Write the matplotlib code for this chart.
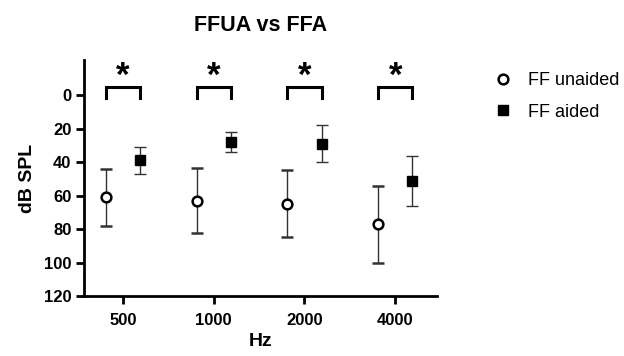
import matplotlib
matplotlib.use("Agg")
import matplotlib.pyplot as plt
import numpy as np

plt.rcParams['font.family'] = ['Liberation Sans', 'DejaVu Sans']

freqs = ["500", "1000", "2000", "4000"]
unaided_mean = [61, 63, 65, 77]
unaided_err = [17, 19.5, 20, 23]
aided_mean = [39, 28, 29, 51.5]
aided_err = [8, 6, 11, 15]
yticks = [0, 20, 40, 60, 80, 100, 120]

fig = plt.figure(figsize=(6.24, 3.56), dpi=100)
ax = fig.add_axes([0.1346, 0.1685, 0.5657, 0.663])

x = np.arange(len(freqs))
off = 0.19
ax.errorbar(x - off, unaided_mean, yerr=unaided_err, fmt='o', mfc='white', mec='black',
            mew=1.8, ms=7, ecolor='#333333', elinewidth=1.0, capsize=4, capthick=1.0,
            label='FF unaided', zorder=3)
ax.errorbar(x + off, aided_mean, yerr=aided_err, fmt='s', mfc='black', mec='black',
            ms=6.5, ecolor='#333333', elinewidth=1.0, capsize=4, capthick=1.0,
            label='FF aided', zorder=3)

for xi in x:
    ax.plot([xi - off, xi - off, xi + off, xi + off], [1.5, -5, -5, 1.5],
            color='black', lw=2.2, solid_joinstyle='miter', clip_on=False)
    ax.text(xi, -11, '*', ha='center', va='center', fontsize=25, fontweight='bold')

ax.set_ylim(120, -21)
ax.set_xlim(-0.43, 3.46)
ax.set_yticks(yticks)
ax.set_xticks(x)
ax.set_xticklabels(freqs)
for s in ['top', 'right']:
    ax.spines[s].set_visible(False)
for s in ['left', 'bottom']:
    ax.spines[s].set_linewidth(2)
ax.tick_params(width=2, length=6, labelsize=12, pad=3)
ax.tick_params(axis='x', pad=6)
for lab in ax.get_xticklabels() + ax.get_yticklabels():
    lab.set_fontweight('bold')
ax.set_xlabel('Hz', fontsize=14, fontweight='bold', labelpad=4)
ax.set_ylabel('dB SPL', fontsize=14, fontweight='bold', labelpad=6)
ax.set_title('FFUA vs FFA', fontsize=15.5, fontweight='bold', pad=21, x=0.5)

h1 = plt.Line2D([], [], marker='o', ls='none', mfc='white', mec='black', mew=1.8, ms=7)
h2 = plt.Line2D([], [], marker='s', ls='none', mfc='black', mec='black', ms=6.5)
fig.legend([h1, h2], ['FF unaided', 'FF aided'], loc='upper left',
           bbox_to_anchor=(0.763, 0.843), frameon=False, fontsize=13,
           handlelength=1.2, handletextpad=0.75, labelspacing=0.8)

fig.savefig('out.png', dpi=100)
